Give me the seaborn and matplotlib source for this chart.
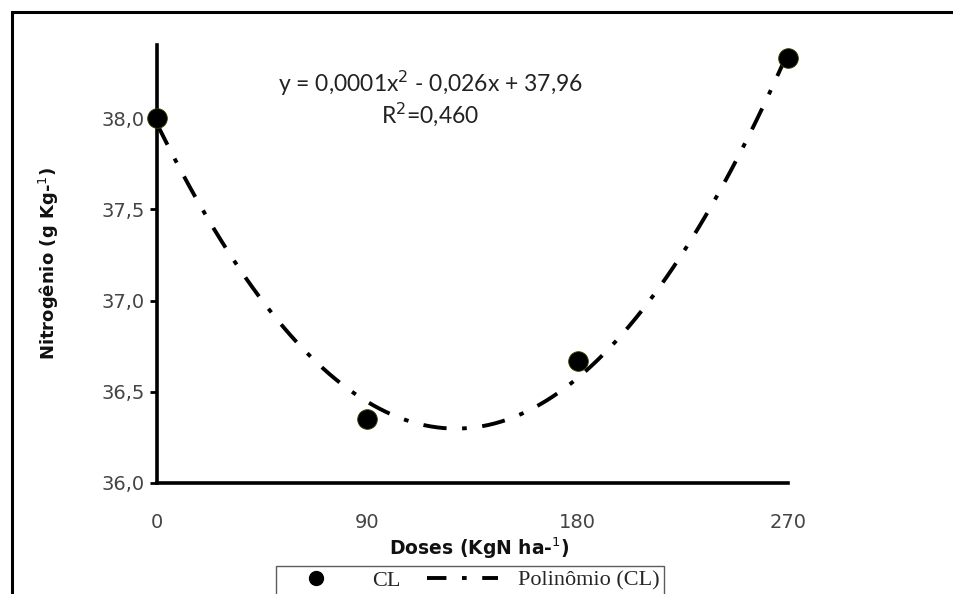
import matplotlib
matplotlib.use("Agg")
import matplotlib.pyplot as plt
from matplotlib.lines import Line2D
from matplotlib.patches import Rectangle
import seaborn as sns
import pandas as pd

# Data
doses = [0, 90, 180, 270]
nitrogen = [38.0, 36.35, 36.67, 38.33]
xticks = [0, 90, 180, 270]
yticks = [36.0, 36.5, 37.0, 37.5, 38.0]
ytick_labels = ["36,0", "36,5", "37,0", "37,5", "38,0"]
equation = "y = 0,0001x$^{2}$ - 0,026x + 37,96"
r2_text = "R$^{2}$=0,460"

df = pd.DataFrame({"dose": doses, "n": nitrogen})

sns.set_style("white")
plt.rcParams["font.family"] = ["DejaVu Sans"]

fig = plt.figure(figsize=(9.54, 5.94), dpi=100)
ax = fig.add_axes([0.1646, 0.187, 0.826 - 0.1646, 0.924 - 0.187])

dashdot = (0, (6, 4, 1.2, 4))
sns.regplot(data=df, x="dose", y="n", order=2, ci=None, scatter=False, ax=ax,
            line_kws=dict(color="black", lw=2.8, linestyle=dashdot))
sns.scatterplot(data=df, x="dose", y="n", ax=ax, color="black", s=200,
                edgecolor="#334400", linewidth=0.6, zorder=5, clip_on=False)

ax.set_xlim(0, 270)
ax.set_ylim(36.0, 38.4)
ax.set_xticks(xticks)
ax.set_xticklabels([str(v) for v in xticks])
ax.set_yticks(yticks)
ax.set_yticklabels(ytick_labels)
ax.tick_params(axis="both", labelsize=14, labelcolor="#444444", colors="black",
               length=5, width=2, direction="out", left=True, bottom=True)
ax.tick_params(axis="x", length=0, pad=22)
ax.tick_params(axis="y", pad=4)

for s in ["top", "right"]:
    ax.spines[s].set_visible(False)
for s in ["left", "bottom"]:
    ax.spines[s].set_linewidth(2.6)
    ax.spines[s].set_color("black")

ax.set_xlabel("Doses (KgN ha-$^{1}$)", fontsize=13.5, fontweight="bold", color="#111111")
ax.xaxis.set_label_coords(0.51, -0.12)
ax.set_ylabel("Nitrogênio (g Kg-$^{1}$)", fontsize=13, fontweight="bold", color="#111111")
ax.yaxis.set_label_coords(-0.152, 0.5)

ax.text(0.433, 0.912, equation, transform=ax.transAxes, ha="center", va="center",
        fontsize=16.5, family="Lato", color="#222222")
ax.text(0.433, 0.843, r2_text, transform=ax.transAxes, ha="center", va="center",
        fontsize=16.5, family="Lato", color="#222222")

# outer frame
fig.patches.append(Rectangle((12 / 954, -0.2), 1.2, 1 - 12 / 594 + 0.2,
                             transform=fig.transFigure, fill=False,
                             edgecolor="black", lw=2.2))

handles = [
    Line2D([], [], marker="o", color="black", linestyle="none", markersize=10),
    Line2D([], [], color="black", lw=2.8, linestyle=(0, (5, 4, 1.2, 4, 5, 4))),
]
fig.legend(handles, ["CL", "Polinômio (CL)"], loc="upper center",
           bbox_to_anchor=(0.493, 0.066), bbox_transform=fig.transFigure,
           ncol=2, frameon=True, fancybox=False, edgecolor="#333333",
           prop={"family": "Liberation Serif", "size": 16}, handlelength=3.2,
           columnspacing=1.2, borderpad=0.2, handletextpad=0.9)

fig.savefig("out.png", dpi=100)
